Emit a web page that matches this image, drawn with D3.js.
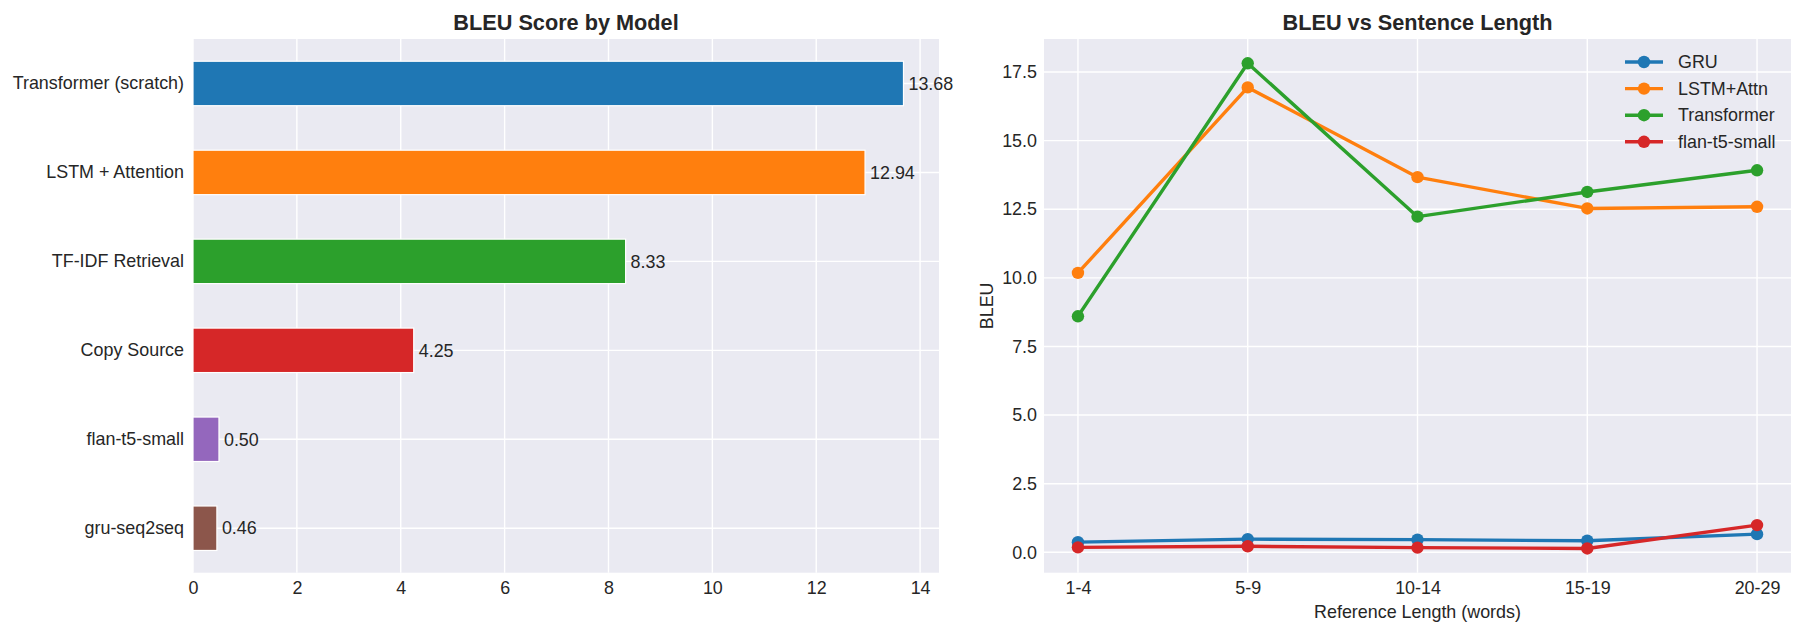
<!DOCTYPE html>
<html>
<head>
<meta charset="utf-8">
<script src="https://cdn.jsdelivr.net/npm/d3@7"></script>
<style>
  body { margin: 0; background: #fff; }
  svg text { font-family: "Liberation Sans", Arial, sans-serif; fill: #262626; }
</style>
</head>
<body>
<svg id="svg1" width="1805" height="634"></svg>
<script>
// data
var models = ["Transformer (scratch)", "LSTM + Attention", "TF-IDF Retrieval", "Copy Source", "flan-t5-small", "gru-seq2seq"];
var bleu = [13.68, 12.94, 8.33, 4.25, 0.50, 0.46];
var barColors = ["#1f77b4", "#ff7f0e", "#2ca02c", "#d62728", "#9467bd", "#8c564b"];
var xTicksLeft = [0, 2, 4, 6, 8, 10, 12, 14];

var lengthBins = ["1-4", "5-9", "10-14", "15-19", "20-29"];
var seriesNames = ["GRU", "LSTM+Attn", "Transformer", "flan-t5-small"];
var gruVals = [0.37, 0.48, 0.46, 0.42, 0.66];
var lstmVals = [10.18, 16.94, 13.67, 12.53, 12.59];
var transVals = [8.60, 17.82, 12.23, 13.13, 13.92];
var flanVals = [0.18, 0.22, 0.17, 0.14, 0.99];
var lineColors = ["#1f77b4", "#ff7f0e", "#2ca02c", "#d62728"];
var yTicksRight = [0, 2.5, 5, 7.5, 10, 12.5, 15, 17.5];

var bg = "#eaeaf2", fs = 17.9, titleFs = 21.7;
var svg = d3.select("#svg1");

// ---------- left: horizontal bar chart ----------
var L = {left: 193, right: 939, top: 39, bottom: 572.7};
var gL = svg.append("g");
gL.append("rect").attr("x", L.left).attr("y", L.top)
  .attr("width", L.right - L.left).attr("height", L.bottom - L.top).style("fill", bg);

var xb = d3.scaleLinear().domain([0, d3.max(bleu) * 1.05]).range([L.left, L.right]);
var yb = d3.scaleBand().domain(models).range([L.top, L.bottom]).paddingInner(0.5).paddingOuter(0.25);

// grid
gL.selectAll(".vg").data(xTicksLeft).enter().append("line")
  .attr("x1", d => xb(d)).attr("x2", d => xb(d)).attr("y1", L.top).attr("y2", L.bottom)
  .style("stroke", "#fff").style("stroke-width", 1.4);
gL.selectAll(".hg").data(models).enter().append("line")
  .attr("x1", L.left).attr("x2", L.right)
  .attr("y1", d => yb(d) + yb.bandwidth() / 2).attr("y2", d => yb(d) + yb.bandwidth() / 2)
  .style("stroke", "#fff").style("stroke-width", 1.4);

// bars
gL.selectAll(".bar").data(models).enter().append("rect")
  .attr("x", xb(0)).attr("y", d => yb(d))
  .attr("width", (d, i) => xb(bleu[i]) - xb(0)).attr("height", yb.bandwidth())
  .style("fill", (d, i) => barColors[i]).style("stroke", "#fff").style("stroke-width", 1.2);

gL.selectAll(".val").data(models).enter().append("text")
  .attr("x", (d, i) => xb(bleu[i]) + 5).attr("y", d => yb(d) + yb.bandwidth() / 2)
  .attr("dy", "0.35em").style("font-size", fs + "px")
  .text((d, i) => bleu[i].toFixed(2));

// axes
gL.append("g").attr("transform", `translate(0,${L.bottom})`)
  .call(d3.axisBottom(xb).tickValues(xTicksLeft).tickSize(0).tickPadding(9).tickFormat(d3.format("d")))
  .call(g => g.select(".domain").remove())
  .selectAll("text").style("font-size", fs + "px").style("font-family", null).attr("dy", "0.71em");
gL.append("g").attr("transform", `translate(${L.left},0)`)
  .call(d3.axisLeft(yb).tickSize(0).tickPadding(9))
  .call(g => g.select(".domain").remove())
  .selectAll("text").style("font-size", fs + "px").style("font-family", null);

gL.append("text").attr("x", (L.left + L.right) / 2).attr("y", 22).attr("dy", "0.35em")
  .style("text-anchor", "middle").style("font-size", titleFs + "px").style("font-weight", "bold")
  .text("BLEU Score by Model");

// ---------- right: line chart ----------
var R = {left: 1044, right: 1791, top: 39, bottom: 572.7};
var series = [gruVals, lstmVals, transVals, flanVals];
var gR = svg.append("g");
gR.append("rect").attr("x", R.left).attr("y", R.top)
  .attr("width", R.right - R.left).attr("height", R.bottom - R.top).style("fill", bg);

var xi = d3.scaleLinear().domain([-0.2, lengthBins.length - 1 + 0.2]).range([R.left, R.right]);
var allVals = d3.merge(series);
var ymin = d3.min(allVals), ymax = d3.max(allVals), pad = (ymax - ymin) * 0.05;
var yl = d3.scaleLinear().domain([ymin - pad, ymax + pad]).range([R.bottom, R.top]);

gR.selectAll(".vg").data(lengthBins).enter().append("line")
  .attr("x1", (d, i) => xi(i)).attr("x2", (d, i) => xi(i)).attr("y1", R.top).attr("y2", R.bottom)
  .style("stroke", "#fff").style("stroke-width", 1.4);
gR.selectAll(".hg").data(yTicksRight).enter().append("line")
  .attr("x1", R.left).attr("x2", R.right).attr("y1", d => yl(d)).attr("y2", d => yl(d))
  .style("stroke", "#fff").style("stroke-width", 1.4);

var line = d3.line().x((d, i) => xi(i)).y(d => yl(d));
series.forEach(function (vals, s) {
  var g = gR.append("g");
  g.append("path").datum(vals).attr("d", line)
    .style("fill", "none").style("stroke", lineColors[s]).style("stroke-width", 3.4)
    .style("stroke-linejoin", "round");
  g.selectAll("circle").data(vals).enter().append("circle")
    .attr("cx", (d, i) => xi(i)).attr("cy", d => yl(d)).attr("r", 6.2)
    .style("fill", lineColors[s]);
});

gR.append("g").attr("transform", `translate(0,${R.bottom})`)
  .call(d3.axisBottom(xi).tickValues(d3.range(lengthBins.length)).tickSize(0).tickPadding(9)
    .tickFormat(i => lengthBins[i]))
  .call(g => g.select(".domain").remove())
  .selectAll("text").style("font-size", fs + "px").style("font-family", null).attr("dy", "0.71em");
gR.append("g").attr("transform", `translate(${R.left},0)`)
  .call(d3.axisLeft(yl).tickValues(yTicksRight).tickSize(0).tickPadding(7).tickFormat(d3.format(".1f")))
  .call(g => g.select(".domain").remove())
  .selectAll("text").style("font-size", fs + "px").style("font-family", null);

gR.append("text").attr("x", (R.left + R.right) / 2).attr("y", 22).attr("dy", "0.35em")
  .style("text-anchor", "middle").style("font-size", titleFs + "px").style("font-weight", "bold")
  .text("BLEU vs Sentence Length");
gR.append("text").attr("x", (R.left + R.right) / 2).attr("y", 612).attr("dy", "0.35em")
  .style("text-anchor", "middle").style("font-size", fs + "px")
  .text("Reference Length (words)");
gR.append("text").attr("transform", `translate(987,${(R.top + R.bottom) / 2}) rotate(-90)`)
  .attr("dy", "0.35em").style("text-anchor", "middle").style("font-size", fs + "px")
  .text("BLEU");

// legend
var leg = gR.selectAll(".leg").data(seriesNames).enter().append("g")
  .attr("transform", (d, i) => `translate(1625,${62 + i * 26.6})`);
leg.append("line").attr("x1", 0).attr("x2", 38)
  .style("stroke", (d, i) => lineColors[i]).style("stroke-width", 3.4);
leg.append("circle").attr("cx", 19).attr("r", 6.2).style("fill", (d, i) => lineColors[i]);
leg.append("text").attr("x", 53).attr("dy", "0.35em").style("font-size", fs + "px").text(d => d);
</script>
</body>
</html>
